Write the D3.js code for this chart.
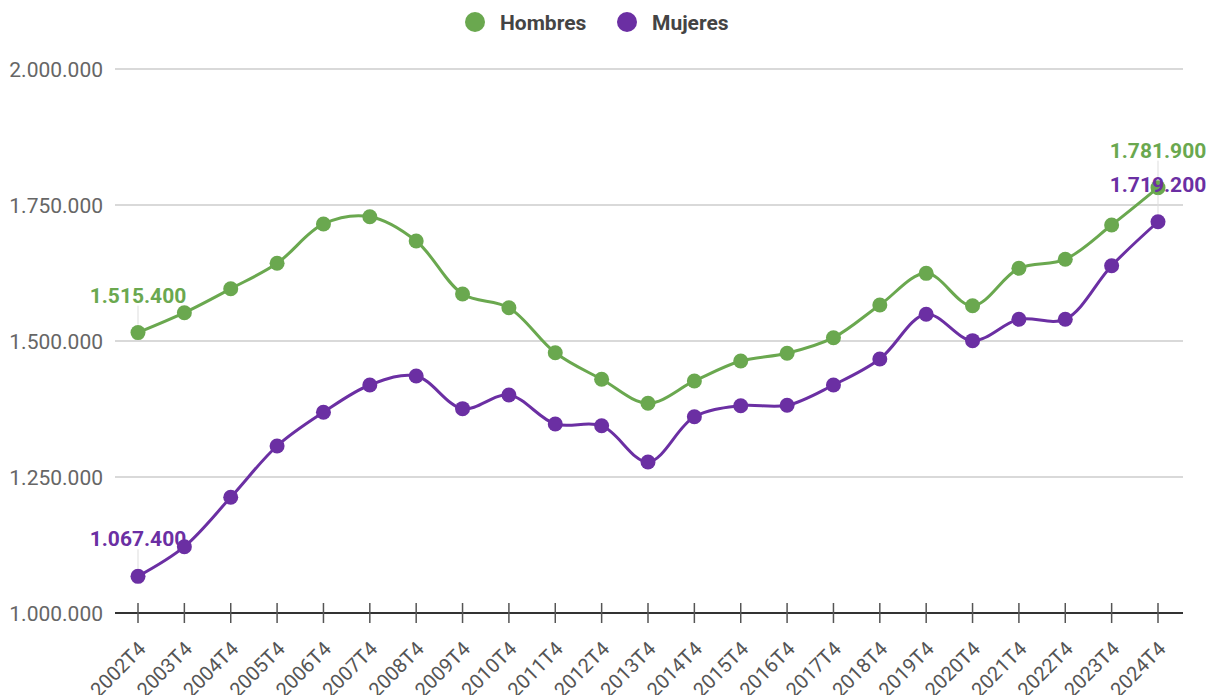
<!DOCTYPE html>
<html>
<head>
<meta charset="utf-8">
<script src="https://cdn.jsdelivr.net/npm/d3@7"></script>
<style>
  body { margin: 0; background: #fff; }
  svg { display: block; font-family: Roboto, "Noto Sans", sans-serif; }
</style>
</head>
<body>
<svg id="chart" width="1207" height="695"></svg>
<script>
const periods = ['2002T4', '2003T4', '2004T4', '2005T4', '2006T4', '2007T4', '2008T4', '2009T4',
  '2010T4', '2011T4', '2012T4', '2013T4', '2014T4', '2015T4', '2016T4', '2017T4', '2018T4',
  '2019T4', '2020T4', '2021T4', '2022T4', '2023T4', '2024T4'];

const hombres = [1515400, 1552000, 1596100, 1642800, 1715100, 1728500, 1683800, 1586400,
  1561200, 1478500, 1429600, 1385500, 1426500, 1463200, 1477400, 1506100, 1566200,
  1624400, 1564900, 1633600, 1650200, 1713200, 1781900];

const mujeres = [1067400, 1121900, 1212700, 1307000, 1368900, 1419100, 1435700, 1375600,
  1400700, 1347400, 1344300, 1277600, 1360800, 1381100, 1381800, 1419100, 1466900,
  1549100, 1500600, 1539900, 1539900, 1638400, 1719200];

const yTicks = [1000000, 1250000, 1500000, 1750000, 2000000];

const series = [
  { name: 'Hombres', values: hombres, color: '#6aa84f' },
  { name: 'Mujeres', values: mujeres, color: '#6b2fa3' }
];

const locale = d3.formatLocale({ decimal: ',', thousands: '.', grouping: [3], currency: ['', '€'] });
const fmt = locale.format(',d');

const svg = d3.select('#chart');

const x = d3.scalePoint().domain(periods).range([138, 1158]);
const y = d3.scaleLinear().domain([1000000, 2000000]).range([613, 69]);
const gridLeft = 115, gridRight = 1183;

// gridlines + y labels
const grid = svg.append('g').attr('class', 'grid');
grid.selectAll('line')
  .data(yTicks.filter(d => d > 1000000))
  .enter()
  .append('line')
  .attr('x1', gridLeft)
  .attr('x2', gridRight)
  .attr('y1', d => y(d))
  .attr('y2', d => y(d))
  .attr('stroke', '#cccccc')
  .attr('stroke-width', 1.5);

grid.selectAll('text')
  .data(yTicks)
  .enter()
  .append('text')
  .attr('x', 103)
  .attr('y', d => y(d))
  .attr('dy', '0.36em')
  .attr('text-anchor', 'end')
  .attr('font-size', 21)
  .attr('fill', '#666')
  .text(d => fmt(d));

// x axis
const xAxis = svg.append('g').attr('class', 'x-axis');
xAxis.append('line')
  .attr('x1', gridLeft)
  .attr('x2', gridRight)
  .attr('y1', y(1000000))
  .attr('y2', y(1000000))
  .attr('stroke', '#333')
  .attr('stroke-width', 2);

xAxis.selectAll('line.tick')
  .data(periods)
  .enter()
  .append('line')
  .attr('class', 'tick')
  .attr('x1', d => x(d))
  .attr('x2', d => x(d))
  .attr('y1', y(1000000) - 10)
  .attr('y2', y(1000000) + 10)
  .attr('stroke', '#555')
  .attr('stroke-width', 1.5);

xAxis.selectAll('text')
  .data(periods)
  .enter()
  .append('text')
  .attr('transform', d => `translate(${x(d) + 9},${y(1000000) + 37}) rotate(-45)`)
  .attr('text-anchor', 'end')
  .attr('font-size', 20)
  .attr('fill', '#555')
  .text(d => d);

// lines
const line = d3.line()
  .x((d, i) => x(periods[i]))
  .y(d => y(d))
  .curve(d3.curveCatmullRom.alpha(0.5));

const lines = svg.append('g').attr('class', 'series');
series.forEach(s => {
  const g = lines.append('g');
  g.append('path')
    .attr('d', line(s.values))
    .attr('fill', 'none')
    .attr('stroke', s.color)
    .attr('stroke-width', 3);

  g.selectAll('circle')
    .data(s.values)
    .enter()
    .append('circle')
    .attr('cx', (d, i) => x(periods[i]))
    .attr('cy', d => y(d))
    .attr('r', 7.5)
    .attr('fill', s.color);
});

// first/last value labels
const labels = svg.append('g').attr('class', 'labels');
series.forEach(s => {
  [0, s.values.length - 1].forEach(i => {
    const px = x(periods[i]);
    const py = y(s.values[i]);
    labels.append('line')
      .attr('x1', px)
      .attr('x2', px)
      .attr('y1', py - 8)
      .attr('y2', py - 27)
      .attr('stroke', '#dddddd')
      .attr('stroke-width', 1);
    labels.append('text')
      .attr('x', px)
      .attr('y', py - 30)
      .attr('text-anchor', 'middle')
      .attr('font-size', 21)
      .attr('font-weight', 'bold')
      .attr('fill', s.color)
      .text(fmt(s.values[i]));
  });
});

// legend
const legend = svg.append('g').attr('class', 'legend');
const legendX = [475, 627];
series.forEach((s, i) => {
  legend.append('circle')
    .attr('cx', legendX[i])
    .attr('cy', 22)
    .attr('r', 10)
    .attr('fill', s.color);
  legend.append('text')
    .attr('x', legendX[i] + 25)
    .attr('y', 22)
    .attr('dy', '0.36em')
    .attr('font-size', 21)
    .attr('font-weight', 'bold')
    .attr('fill', '#444')
    .text(s.name);
});
</script>
</body>
</html>
